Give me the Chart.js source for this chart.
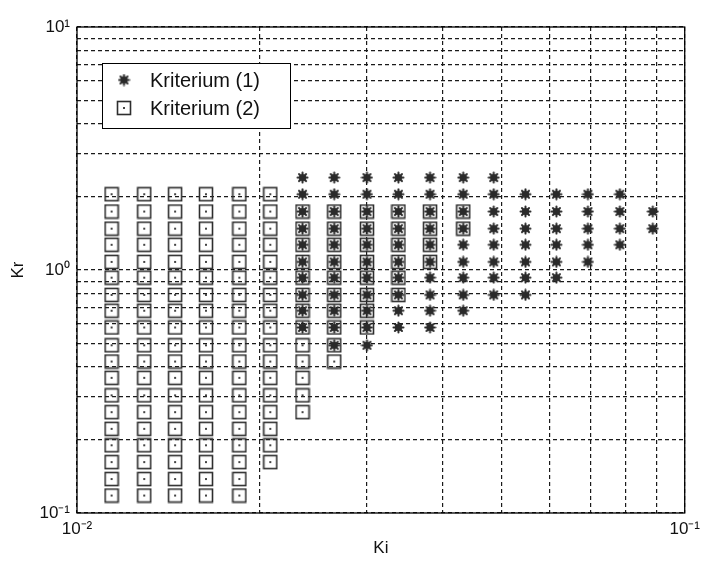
<!DOCTYPE html>
<html>
<head>
<meta charset="utf-8">
<script src="https://cdn.jsdelivr.net/npm/chart.js@4/dist/chart.umd.min.js"></script>
<style>
  body { margin: 0; background: #fff; }
  canvas { display: block; }
</style>
</head>
<body>
<canvas id="myChart" width="706" height="571"></canvas>
<script>
// Ki columns (x)
const kiValues = [0.0114, 0.0129, 0.0145, 0.0163, 0.0185, 0.0208, 0.0235, 0.0265, 0.0300,
                  0.0338, 0.0381, 0.0432, 0.0485, 0.0547, 0.0615, 0.0693, 0.0782, 0.0886];

// Kr levels (y) that the markers sit on
const krLevels = [2.4, 2.05, 1.74, 1.48, 1.27, 1.08, 0.93, 0.79, 0.68, 0.58,
                  0.49, 0.42, 0.36, 0.305, 0.26, 0.222, 0.19, 0.162, 0.138, 0.118];

// for every Ki column: first and last Kr level index (-1 = nothing in that column)
const crit1First = [-1, -1, -1, -1, -1, -1, 0, 0, 0, 0, 0, 0, 0, 1, 1, 1, 1, 2];
const crit1Last  = [-1, -1, -1, -1, -1, -1, 9, 10, 10, 9, 9, 8, 7, 7, 6, 5, 4, 3];
const crit2First = [1, 1, 1, 1, 1, 1, 2, 2, 2, 2, 2, 2, -1, -1, -1, -1, -1, -1];
const crit2Last  = [19, 19, 19, 19, 19, 17, 14, 11, 9, 7, 5, 3, -1, -1, -1, -1, -1, -1];

const seriesLabels = ["Kriterium (1)", "Kriterium (2)"];

// axis ticks / grid
const xTicks = [0.01, 0.02, 0.03, 0.04, 0.05, 0.06, 0.07, 0.08, 0.09, 0.1];
const yTicks = [0.1, 0.2, 0.3, 0.4, 0.5, 0.6, 0.7, 0.8, 0.9,
                1, 2, 3, 4, 5, 6, 7, 8, 9, 10];
const xMajor = [0.01, 0.1];
const xMajorLabels = ["10⁻²", "10⁻¹"];
const yMajor = [0.1, 1, 10];
const yMajorLabels = ["10⁻¹", "10⁰", "10¹"];

function buildPoints(first, last) {
    const pts = [];
    kiValues.forEach((ki, c) => {
        if (first[c] < 0) return;
        for (let k = first[c]; k <= last[c]; k++) {
            pts.push({ x: ki, y: krLevels[k] });
        }
    });
    return pts;
}

function starMarker() {
    const c = document.createElement("canvas");
    c.width = 13; c.height = 13;
    const g = c.getContext("2d");
    g.strokeStyle = "#2a2a2a";
    g.fillStyle = "#2a2a2a";
    g.lineWidth = 2;
    g.lineCap = "round";
    for (let a = 0; a < 4; a++) {
        const ang = a * Math.PI / 4;
        g.beginPath();
        g.moveTo(6.5 - Math.cos(ang) * 5, 6.5 - Math.sin(ang) * 5);
        g.lineTo(6.5 + Math.cos(ang) * 5, 6.5 + Math.sin(ang) * 5);
        g.stroke();
    }
    g.beginPath();
    g.arc(6.5, 6.5, 3.6, 0, Math.PI * 2);
    g.fill();
    return c;
}

function squareMarker() {
    const c = document.createElement("canvas");
    c.width = 16; c.height = 16;
    const g = c.getContext("2d");
    g.strokeStyle = "#2e2e2e";
    g.lineWidth = 1.6;
    g.strokeRect(1.5, 1.5, 13, 13);
    g.fillStyle = "#444";
    g.fillRect(7, 7, 2, 2);
    return c;
}

const starImg = starMarker();
const squareImg = squareMarker();

const framePlugin = {
    id: "frame",
    afterDatasetsDraw(chart) {
        const { ctx, chartArea: a } = chart;
        ctx.save();
        ctx.strokeStyle = "#000";
        ctx.lineWidth = 1.3;
        ctx.strokeRect(a.left, a.top, a.right - a.left, a.bottom - a.top);
        ctx.restore();
    }
};

const legendPlugin = {
    id: "boxLegend",
    afterDraw(chart) {
        const ctx = chart.ctx;
        const imgs = [starImg, squareImg];
        ctx.save();
        ctx.fillStyle = "#fff";
        ctx.fillRect(102, 63, 188, 65);
        ctx.strokeStyle = "#000";
        ctx.lineWidth = 1;
        ctx.strokeRect(102.5, 63.5, 188, 65);
        ctx.font = "20px 'Liberation Sans', Arial, sans-serif";
        ctx.fillStyle = "#111";
        ctx.textBaseline = "middle";
        chart.data.datasets.forEach((ds, i) => {
            const cy = 80 + i * 28;
            const img = imgs[i];
            ctx.drawImage(img, 124 - img.width / 2, cy - img.height / 2);
            ctx.fillText(ds.label, 150, cy + 1);
        });
        ctx.restore();
    }
};

const tickFont = { family: "'Liberation Sans', Arial, sans-serif", size: 17 };
const titleFont = { family: "'Liberation Sans', Arial, sans-serif", size: 17 };

new Chart(document.getElementById("myChart").getContext("2d"), {
    type: "scatter",
    data: {
        datasets: [
            {
                label: seriesLabels[0],
                data: buildPoints(crit1First, crit1Last),
                pointStyle: starImg,
                pointRadius: 6
            },
            {
                label: seriesLabels[1],
                data: buildPoints(crit2First, crit2Last),
                pointStyle: squareImg,
                pointRadius: 8
            }
        ]
    },
    options: {
        responsive: false,
        animation: false,
        devicePixelRatio: 1,
        layout: { padding: { top: 27, right: 19, left: 0, bottom: 0 } },
        plugins: {
            legend: { display: false },
            tooltip: { enabled: false }
        },
        scales: {
            x: {
                type: "logarithmic",
                min: 0.01,
                max: 0.1,
                afterBuildTicks: s => { s.ticks = xTicks.map(v => ({ value: v })); },
                afterFit: s => { s.height = 58; },
                ticks: {
                    autoSkip: false,
                    maxRotation: 0,
                    padding: 6,
                    color: "#111",
                    font: tickFont,
                    callback: v => {
                        const i = xMajor.indexOf(v);
                        return i >= 0 ? xMajorLabels[i] : "";
                    }
                },
                grid: { color: "#1a1a1a", lineWidth: 1.2, drawTicks: false },
                border: { display: false, dash: [4, 3] },
                title: { display: true, text: "Ki", color: "#111", font: titleFont, padding: { bottom: 12, top: 0 } }
            },
            y: {
                type: "logarithmic",
                min: 0.1,
                max: 10,
                afterBuildTicks: s => { s.ticks = yTicks.map(v => ({ value: v })); },
                afterFit: s => { s.width = 77; },
                ticks: {
                    autoSkip: false,
                    padding: 7,
                    color: "#111",
                    font: tickFont,
                    callback: v => {
                        const i = yMajor.indexOf(v);
                        return i >= 0 ? yMajorLabels[i] : "";
                    }
                },
                grid: { color: "#1a1a1a", lineWidth: 1.2, drawTicks: false },
                border: { display: false, dash: [4, 3] },
                title: { display: true, text: "Kr", color: "#111", font: titleFont, padding: { top: 8, bottom: 0 } }
            }
        }
    },
    plugins: [framePlugin, legendPlugin]
});
</script>
</body>
</html>
